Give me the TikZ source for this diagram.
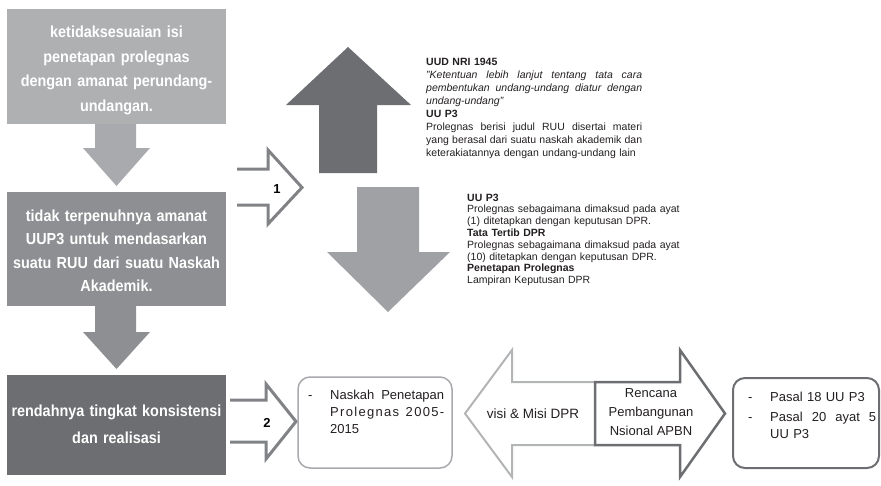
\documentclass[tikz,border=0pt]{standalone}
\usepackage{fontspec}
\setmainfont{Liberation Sans}
\newfontfamily\boxfont[FakeStretch=0.9]{Liberation Sans}
\newcommand\jline[2]{\leavevmode\hbox to #1{\spaceskip=.28em plus 1fil\relax #2}}
\definecolor{cboxA}{HTML}{AFB0B2}
\definecolor{carrA}{HTML}{A9AAAD}
\definecolor{cboxB}{HTML}{8E8F92}
\definecolor{cboxC}{HTML}{6D6E71}
\definecolor{cdown}{HTML}{A0A1A4}
\definecolor{chol}{HTML}{808285}
\definecolor{clight}{HTML}{B3B4B6}
\definecolor{cnask}{HTML}{A7A9AC}
\definecolor{ctext}{HTML}{231F20}
\begin{document}
\begin{tikzpicture}[x=1pt,y=-1pt,
  bigbox/.style={rectangle,draw=none,inner sep=0pt},
  boxtext/.style={inner sep=0pt,text width=215pt,align=center,text=white},
  holarrow/.style={draw=chol,line width=3pt,line join=miter},
  rbox/.style={rectangle,rounded corners=12pt,inner sep=0pt},
  bodytext/.style={inner sep=0pt,anchor=north west,align=left,text=ctext},
  numlabel/.style={inner sep=0pt,font=\fontsize{13}{15}\selectfont\bfseries,text=black}
]
\useasboundingbox (0,0) rectangle (881,485);

% left column boxes
\node[bigbox,fill=cboxA,minimum width=219pt,minimum height=115pt] (b1) at (116.5,66.5) {};
\node[bigbox,fill=cboxB,minimum width=219pt,minimum height=114pt] (b2) at (116.5,249) {};
\node[bigbox,fill=cboxC,minimum width=219pt,minimum height=100pt] (b3) at (116.5,425) {};

\node[boxtext,font=\boxfont\fontsize{16}{24.7}\selectfont\bfseries] (b1t) at (116.5,70.5)
  {ketidaksesuaian isi\\penetapan prolegnas\\dengan amanat perundang-\\undangan.};
\node[boxtext,font=\boxfont\fontsize{16}{23.4}\selectfont\bfseries] (b2t) at (116.5,250.6)
  {tidak terpenuhnya amanat\\UUP3 untuk mendasarkan\\suatu RUU dari suatu Naskah\\Akademik.};
\node[boxtext,font=\boxfont\fontsize{16}{27}\selectfont\bfseries] (b3t) at (116.5,424.6)
  {rendahnya tingkat konsistensi\\dan realisasi};

% block arrows between boxes
\fill[carrA] (95,124) -- (136,124) -- (136,148) -- (150,148) -- (116.5,186) -- (83,148) -- (95,148) -- cycle;
\fill[cboxB] (95,306) -- (136,306) -- (136,332) -- (150,332) -- (116.5,369) -- (83,332) -- (95,332) -- cycle;

% up and down arrows
\fill[cboxC] (319,173) -- (319,105) -- (286,105) -- (348,47) -- (411,105) -- (377,105) -- (377,173) -- cycle;
\fill[cdown] (357,187) -- (419,187) -- (419,252) -- (450,252) -- (388,312) -- (327,252) -- (357,252) -- cycle;

% hollow arrows 1 and 2
\draw[holarrow] (237,169) -- (268,169) -- (268,150) -- (302,187.5) -- (268,224) -- (268,205) -- (237,205);
\node[numlabel] (n1) at (277,189) {1};
\draw[holarrow] (230,400) -- (266,400) -- (266,384) -- (296,421.5) -- (266,459) -- (266,442) -- (230,442);
\node[numlabel] (n2) at (267,423) {2};

% upper text block
\node[bodytext,text width=216pt,font=\fontsize{10.5}{13}\selectfont] (t1) at (426,58.3) {%
\textbf{UUD NRI 1945}\\
\textit{\jline{216pt}{"Ketentuan lebih lanjut tentang tata cara}}\\
\textit{\jline{216pt}{pembentukan undang-undang diatur dengan}}\\
\textit{undang-undang"}\\
\textbf{UU P3}\\
\jline{216pt}{Prolegnas berisi judul RUU disertai materi}\\
\jline{216pt}{yang berasal dari suatu naskah akademik dan}\\
keterakiatannya dengan undang-undang lain};

% lower text block
\node[bodytext,text width=240pt,font=\fontsize{10.5}{11.8}\selectfont] (t2) at (467,193.5) {%
\textbf{UU P3}\\
Prolegnas sebagaimana dimaksud pada ayat\\
(1) ditetapkan dengan keputusan DPR.\\
\textbf{Tata Tertib DPR}\\
Prolegnas sebagaimana dimaksud pada ayat\\
(10) ditetapkan dengan keputusan DPR.\\
\textbf{Penetapan Prolegnas}\\
Lampiran Keputusan DPR};

% Naskah box
\node[rbox,draw=cnask,line width=1.5pt,minimum width=154pt,minimum height=91pt] (nk) at (375,422.5) {};
\node[bodytext,text width=140pt,font=\fontsize{13}{17}\selectfont] (nkt) at (308,389.5) {%
\makebox[22pt][l]{-}\jline{114pt}{Naskah Penetapan}\\
\hspace*{22pt}{\addfontfeature{LetterSpace=10}\jline{114pt}{Prolegnas 2005-}}\\
\hspace*{22pt}2015};

% visi arrow (left) and Rencana arrow (right)
\draw[draw=clight,line width=2pt,line join=miter] (595,382) -- (512,382) -- (512,350) -- (465,413.5) -- (512,477) -- (512,445) -- (595,445);
\draw[draw=cboxC,line width=2.5pt,line join=miter] (595,382) -- (680,382) -- (680,350) -- (725,413.5) -- (680,477) -- (680,445) -- (595,445) -- cycle;
\node[inner sep=0pt,font=\fontsize{13.5}{15}\selectfont,text=ctext] (visi) at (533,413.5) {visi \& Misi DPR};
\node[inner sep=0pt,align=center,font=\fontsize{13}{19}\selectfont,text=ctext] (renc) at (651,412) {Rencana\\Pembangunan\\Nsional APBN};

% Pasal box
\node[rbox,draw=cboxC,line width=2pt,minimum width=146pt,minimum height=90pt] (pb) at (806,423) {};
\node[bodytext,text width=132pt,font=\fontsize{13}{16.5}\selectfont] (pbt) at (748,391.7) {%
\makebox[22pt][l]{-}Pasal 18 UU P3\\[4pt]
\makebox[22pt][l]{-}\jline{106pt}{Pasal 20 ayat 5}\\
\hspace*{22pt}UU P3};
\end{tikzpicture}
\end{document}
